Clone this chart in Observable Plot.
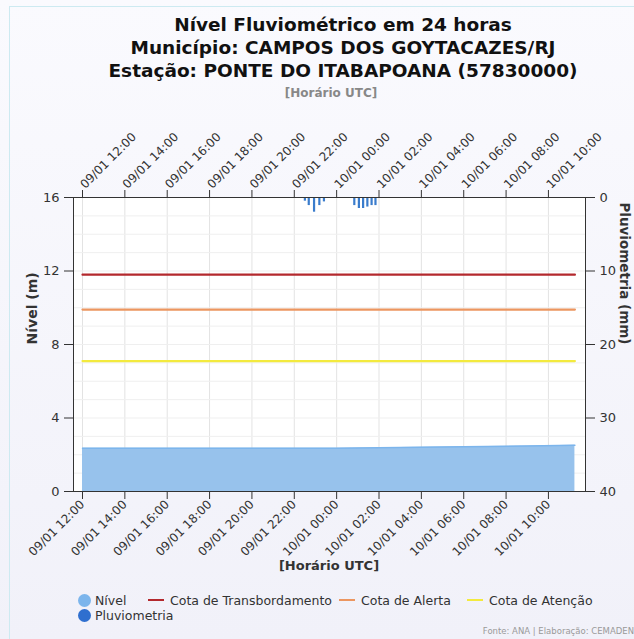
<!DOCTYPE html>
<html>
<head>
<meta charset="utf-8">
<script src="https://cdn.jsdelivr.net/npm/d3@7"></script>
<script src="https://cdn.jsdelivr.net/npm/@observablehq/plot@0.6"></script>
<style>
  html, body { margin: 0; padding: 0; }
  body { width: 634px; height: 639px; overflow: hidden; background: linear-gradient(#fafafe, #f1f1f9); font-family: "DejaVu Sans", sans-serif; position: relative; }
  #border { position: absolute; left: 9px; top: 6px; width: 640px; height: 640px; border: 1px solid #cdeaf1; box-sizing: border-box; }
  .title { position: absolute; left: 0; width: 686px; text-align: center; font-weight: bold; font-size: 18.5px; color: #111; }
  #sub { position: absolute; left: 0; width: 662px; text-align: center; font-weight: bold; font-size: 12px; color: #888; top: 86px; }
  #chart { position: absolute; left: 0; top: 105px; }
  #xlab { position: absolute; left: 0; width: 658px; text-align: center; font-weight: bold; font-size: 13px; color: #333; top: 558px; }
  #legend { position: absolute; left: 0; top: 593px; font-size: 12.5px; color: #333; }
  .li { position: absolute; white-space: nowrap; line-height: 16px; }
  .dot { display: inline-block; width: 13px; height: 13px; border-radius: 50%; vertical-align: -2px; margin-right: 4px; }
  .seg { display: inline-block; width: 16px; height: 2px; vertical-align: 4px; margin-right: 6px; }
  #credit { position: absolute; right: 0px; top: 626px; font-size: 8.5px; color: #9a9a9a; }
</style>
</head>
<body>
<div id="border"></div>
<div class="title" style="top:14px">Nível Fluviométrico em 24 horas</div>
<div class="title" style="top:37px">Município: CAMPOS DOS GOYTACAZES/RJ</div>
<div class="title" style="top:60px">Estação: PONTE DO ITABAPOANA (57830000)</div>
<div id="sub">[Horário UTC]</div>
<div id="chart"></div>
<div id="xlab">[Horário UTC]</div>
<div id="legend"></div>
<div id="credit">Fonte: ANA | Elaboração: CEMADEN</div>
<script>
// ---- data ----
const levelTime  = ["09/01 12:00","09/01 15:00","09/01 18:00","09/01 21:00","10/01 00:00","10/01 03:00","10/01 06:00","10/01 09:00","10/01 11:15"];
const levelValue = [2.35, 2.35, 2.35, 2.35, 2.36, 2.40, 2.43, 2.47, 2.52];

const rainTime  = ["09/01 22:30","09/01 22:41","09/01 22:56","09/01 23:11","09/01 23:24",
                   "10/01 00:18","10/01 00:28","10/01 00:37",
                   "10/01 00:50","10/01 01:03","10/01 01:15","10/01 01:27","10/01 01:39","10/01 01:50",
                   "10/01 02:08","10/01 02:17","10/01 02:27"];
const rainValue = [0.5, 1.1, 2.0, 1.1, 0.6,
                   0.1, 0.1, 0.1,
                   1.1, 1.5, 1.5, 1.3, 1.1, 1.1,
                   0.1, 0.1, 0.1];

const thresholdName  = ["Cota de Transbordamento", "Cota de Alerta", "Cota de Atenção"];
const thresholdValue = [11.8, 9.9, 7.1];
const thresholdColor = ["#b3282d", "#ec9660", "#f3ea3e"];

const yTicks = [0, 4, 8, 12, 16];

// ---- helpers ----
const parseT = s => { const [d, t] = s.split(" "); const [dd, mm] = d.split("/").map(Number); const [H, M] = t.split(":").map(Number); return new Date(Date.UTC(2025, mm - 1, dd, H, M)); };
const level = levelTime.map((t, i) => ({t: parseT(t), v: levelValue[i]}));
const rain = rainTime.map((t, i) => ({t: parseT(t), mm: rainValue[i]}));
const tStart = level[0].t, tEnd = level[level.length - 1].t;
const thrRows = thresholdName.flatMap((n, i) => [{t: tStart, v: thresholdValue[i], name: n}, {t: tEnd, v: thresholdValue[i], name: n}]);
const mmToY = mm => 16 - mm * 16 / 40;

const fmt = d3.utcFormat("%d/%m %H:%M");
const every2h = d3.utcHour.every(2);

const chart = Plot.plot({
  width: 634, height: 470,
  marginLeft: 73, marginRight: 49, marginTop: 92, marginBottom: 84,
  style: {fontFamily: "DejaVu Sans, sans-serif", fontSize: "12px", color: "#333", background: "transparent"},
  x: {type: "utc", domain: [new Date(Date.UTC(2025, 0, 9, 11, 34, 30)), new Date(Date.UTC(2025, 0, 10, 11, 45))]},
  y: {domain: [0, 16]},
  color: {domain: thresholdName, range: thresholdColor},
  marks: [
    Plot.frame({fill: "white", stroke: null}),
    Plot.gridX({ticks: every2h, stroke: "#e3e3e3", strokeOpacity: 1}),
    Plot.gridY({ticks: d3.range(0, 17), stroke: "#efefef", strokeOpacity: 1}),
    Plot.areaY(level, {x: "t", y: "v", fill: "#97c2ec"}),
    Plot.lineY(level, {x: "t", y: "v", stroke: "#7cb5ec", strokeWidth: 1.5}),
    Plot.line(thrRows, {x: "t", y: "v", z: "name", stroke: "name", strokeWidth: 2.2}),
    Plot.ruleX(rain, {x: "t", y1: () => 16, y2: d => mmToY(d.mm), stroke: "#3a7ccc", strokeWidth: 2.2}),
    Plot.frame({stroke: "#333", strokeWidth: 1}),
    Plot.axisX({anchor: "bottom", ticks: every2h, tickFormat: fmt, tickRotate: -45, tickSize: 8, tickPadding: 3, label: null, fontSize: 12}),
    Plot.axisX({anchor: "top", ticks: every2h, tickFormat: fmt, tickRotate: -45, tickSize: 8, tickPadding: 3, label: null, fontSize: 12}),
    Plot.axisY({anchor: "left", ticks: yTicks, tickSize: 9, tickPadding: 5, label: null, fontSize: 13}),
    Plot.axisY({anchor: "right", ticks: yTicks, tickSize: 9, tickPadding: 5, tickFormat: d => (16 - d) * 40 / 16, label: null, fontSize: 13}),
    Plot.text(["Nível (m)"], {frameAnchor: "left", dx: -41, text: d => d, rotate: -90, fontWeight: "bold", fontSize: 14, fill: "#333"}),
    Plot.text(["Pluviometria (mm)"], {frameAnchor: "right", dx: 39, text: d => d, rotate: 90, fontWeight: "bold", fontSize: 13.5, fill: "#333"})
  ]
});
document.getElementById("chart").appendChild(chart);

// ---- legend ----
const legend = document.getElementById("legend");
const items = [
  {x: 78, y: 0, html: `<span class="dot" style="background:#7cb5ec"></span>Nível`},
  {x: 78, y: 15, html: `<span class="dot" style="background:#2f6fcf"></span>Pluviometria`}
];
const thrX = [148, 339, 467];
thresholdName.forEach((n, i) => items.push({x: thrX[i], y: 0, html: `<span class="seg" style="background:${thresholdColor[i]}"></span>${n}`}));
items.forEach(it => { const d = document.createElement("div"); d.className = "li"; d.style.left = it.x + "px"; d.style.top = it.y + "px"; d.innerHTML = it.html; legend.appendChild(d); });
</script>
</body>
</html>
